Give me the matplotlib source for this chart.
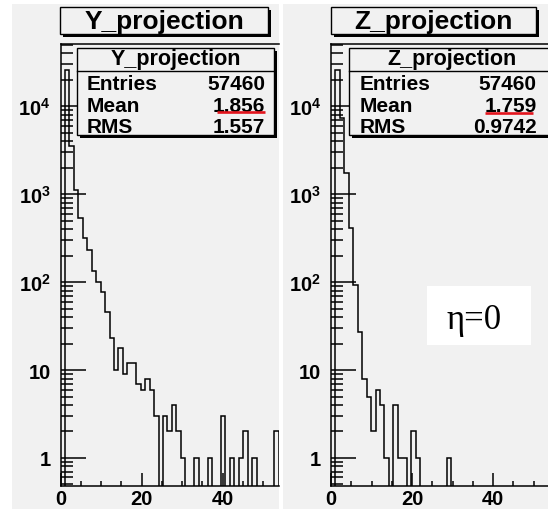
import numpy as np
import matplotlib
matplotlib.use('Agg')
import matplotlib.pyplot as plt
from matplotlib.patches import Rectangle
from matplotlib.lines import Line2D
from matplotlib.ticker import FixedLocator, FixedFormatter, LogLocator, NullFormatter, MultipleLocator

plt.rcParams['font.family'] = ['Liberation Sans', 'DejaVu Sans']
plt.rcParams['font.weight'] = 'bold'
plt.rcParams['mathtext.fontset'] = 'custom'
plt.rcParams['mathtext.bf'] = 'Liberation Sans:bold'
plt.rcParams['mathtext.rm'] = 'Liberation Sans:bold'

W, H = 548, 510

# 50 bins between 0 and 55 (bin width 1.1)
n_bins = 50
x_min, x_max = 0, 55

# bin contents
y_counts = [0, 26000, 3500, 1110, 534, 316, 233, 133, 101, 78,
            46, 23, 10, 18, 9, 12, 12, 7, 6, 8,
            6, 3, 0, 3, 2, 4, 2, 1, 0, 0,
            1, 0, 0, 1, 0, 0, 3, 0, 1, 0,
            1, 2, 0, 1, 0, 0, 0, 0, 2, 0]
z_counts = [0, 26000, 7400, 1760, 414, 92, 27, 8, 5, 2,
            6, 4, 1, 0, 4, 1, 1, 0, 2, 1,
            0, 0, 0, 0, 0, 0, 1, 0, 0, 0,
            0, 0, 0, 0, 0, 0, 0, 0, 0, 0,
            0, 0, 0, 0, 0, 0, 0, 0, 0, 0]

titles = ['Y_projection', 'Z_projection']
stat_names = ['Entries', 'Mean', 'RMS']
y_stats = ['57460', '1.856', '1.557']
z_stats = ['57460', '1.759', '0.9742']
y_tick_vals = [1, 10, 100, 1000, 10000]
y_tick_text = ['1', '10', r'$\mathbf{10^{2}}$', r'$\mathbf{10^{3}}$', r'$\mathbf{10^{4}}$']
note = 'η=0'

PAD = '#f1f1f1'


def fx(x):
    return x / W


def fy(y):
    return 1 - y / H


def rect(fig, x0, y0, x1, y1, **kw):
    r = Rectangle((fx(x0), fy(y1)), (x1 - x0) / W, (y1 - y0) / H,
                  transform=fig.transFigure, **kw)
    fig.add_artist(r)
    return r


def hline(fig, x0, x1, y, **kw):
    fig.add_artist(Line2D([fx(x0), fx(x1)], [fy(y), fy(y)], transform=fig.transFigure, **kw))


def ftext(fig, x, y, s, **kw):
    fig.text(fx(x), fy(y), s, **kw)


def draw_panel(fig, left, right, counts, title, stats, box):
    edges = np.linspace(x_min, x_max, n_bins + 1)
    c = np.array(counts, dtype=float)
    c = np.where(c > 0, c, 1e-3)

    ax = fig.add_axes([fx(left), fy(487), (right - left) / W, (487 - 45) / H])
    ax.set_facecolor(PAD)
    ax.stairs(c, edges, baseline=1e-3, color='black', lw=1.1)
    ax.set_yscale('log')
    ax.set_ylim(0.48, 5.1e4)
    ax.set_xlim(0, (right - left) / 4.05)

    ax.yaxis.set_major_locator(FixedLocator(y_tick_vals))
    ax.yaxis.set_major_formatter(FixedFormatter(y_tick_text))
    ax.yaxis.set_minor_locator(LogLocator(base=10, subs=np.arange(2, 10)))
    ax.yaxis.set_minor_formatter(NullFormatter())
    ax.xaxis.set_major_locator(MultipleLocator(20))
    ax.xaxis.set_minor_locator(MultipleLocator(5))

    ax.tick_params(axis='y', which='major', direction='in', length=18, width=1.1,
                   pad=7, labelsize=14.5)
    ax.tick_params(axis='y', which='minor', direction='in', length=8.6, width=1.1)
    ax.tick_params(axis='x', which='major', direction='in', length=9.4, width=1.1,
                   pad=2.5, labelsize=14.5)
    ax.tick_params(axis='x', which='minor', direction='in', length=3.6, width=1.1)
    ax.spines['right'].set_visible(False)
    for s in ['left', 'top', 'bottom']:
        ax.spines[s].set_linewidth(1.1)

    # title pave
    tx0, tx1 = box['title']
    rect(fig, tx0 + 3, 11, tx1 + 3, 38, facecolor='black', edgecolor='none', zorder=2)
    rect(fig, tx0, 8, tx1, 35, facecolor=PAD, edgecolor='black', lw=1, zorder=2)
    ftext(fig, (tx0 + tx1) / 2, 29.5, title, ha='center', va='baseline',
          fontsize=19, zorder=3)

    # stats pave
    sx0, sx1 = box['stats']
    rect(fig, sx0 + 3, 52, sx1 + 3, 139, facecolor='black', edgecolor='none', zorder=2)
    rect(fig, sx0, 49, sx1, 136, facecolor=PAD, edgecolor='black', lw=1, zorder=2)
    hline(fig, sx0, sx1, 72, color='black', lw=1, zorder=3)
    ftext(fig, (sx0 + sx1) / 2, 65, title, ha='center', va='baseline',
          fontsize=15.5, zorder=3)
    for name, val, yb in zip(stat_names, stats, [90, 112.3, 133.3]):
        ftext(fig, box['lab_x'], yb, name, ha='left', va='baseline', fontsize=15, zorder=3)
        ftext(fig, box['val_x'], yb, val, ha='right', va='baseline', fontsize=15, zorder=3)
    rx0, rx1, ry = box['red']
    hline(fig, rx0, rx1, ry, color='#e3141c', lw=1.9, zorder=4, solid_capstyle='butt')
    return ax


fig = plt.figure(figsize=(W / 100, H / 100), dpi=100)
fig.patch.set_facecolor('white')

# pads
rect(fig, 12, 5, 279, 512, facecolor=PAD, edgecolor='none', zorder=-5)
rect(fig, 283, 5, 550, 512, facecolor=PAD, edgecolor='none', zorder=-5)

draw_panel(fig, 60.5, 279, y_counts, titles[0], y_stats,
           {'title': (60, 268), 'stats': (77, 274), 'lab_x': 87, 'val_x': 265,
            'red': (217, 265, 113)})
draw_panel(fig, 331, 548, z_counts, titles[1], z_stats,
           {'title': (331, 536), 'stats': (349, 556), 'lab_x': 360, 'val_x': 536.7,
            'red': (485, 533, 114)})

# eta label
rect(fig, 427, 287, 531, 346, facecolor='white', edgecolor='none', zorder=2)
ftext(fig, 474.5, 329, note, ha='center', va='baseline', fontsize=25,
      fontweight='normal', family=['Liberation Serif', 'DejaVu Serif'], zorder=3)

fig.savefig('out.png', dpi=100)
